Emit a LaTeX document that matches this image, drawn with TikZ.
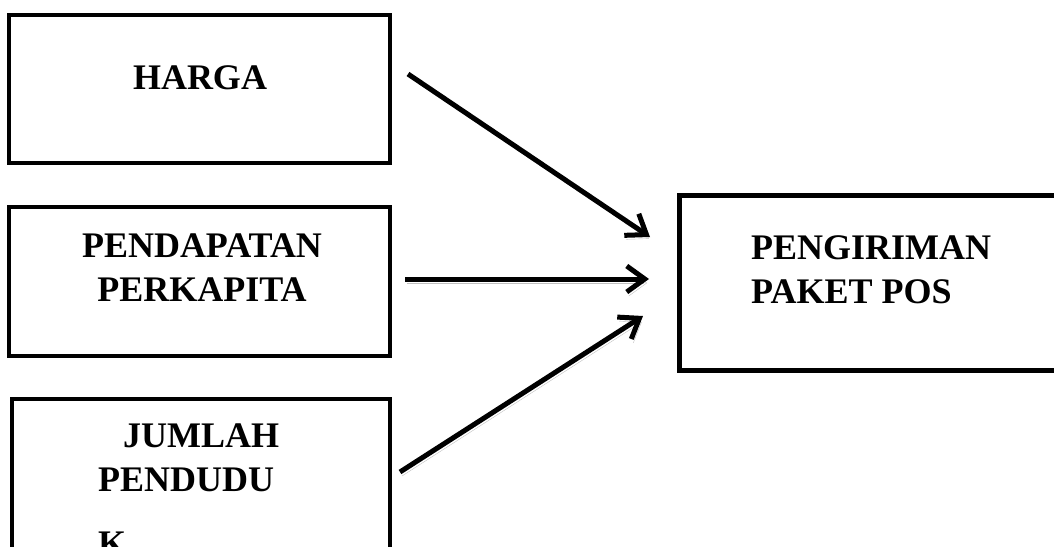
\documentclass[tikz,border=0pt]{standalone}
\usepackage{fontspec}
\setmainfont{Liberation Serif}
\usepackage{tikz}
\usetikzlibrary{arrows.meta, positioning}

\begin{document}
\begin{tikzpicture}[x=1pt, y=-1pt,
        box/.style={draw, line width=4pt, inner sep=0pt, outer sep=0pt},
        lbl/.style={inner sep=0pt, font=\fontsize{36}{44}\selectfont\bfseries},
        arr/.style={line width=5pt, -{Straight Barb[length=18pt, width=26pt]},
            preaction={draw=black!25, transform canvas={shift={(2pt,-4pt)}}}}]
        \useasboundingbox (0, 0) rectangle (1054, 546);

        \node[box, minimum width=381pt, minimum height=148pt] (harga) at (199.5, 89) {};
        \node[box, minimum width=381pt, minimum height=149pt] (pendapatan) at (199.5, 281.5) {};
        \node[box, minimum width=378pt, minimum height=221pt] (jumlah) at (201, 509.5) {};
        \node[box, line width=5pt, minimum width=400pt, minimum height=175pt] (pengiriman) at (879.5, 283) {};

        \node[lbl, anchor=north] (harga-txt) at (200, 65) {HARGA};
        \node[lbl, anchor=north, align=center] (pendapatan-txt) at (202, 234) {PENDAPATAN\\PERKAPITA};
        \node[lbl, anchor=north west, align=left] (jumlah-txt) at (98, 424) {\hspace*{25pt}JUMLAH\\PENDUDU\\[20pt]K};
        \node[lbl, anchor=north west, align=left] (pengiriman-txt) at (751, 235) {PENGIRIMAN\\PAKET POS};

        \draw[arr] ([xshift=18pt, yshift=15pt]harga.east) -- ([xshift=-29.5pt, yshift=46pt]pengiriman.west);
        \draw[arr] ([xshift=15pt, yshift=2.5pt]pendapatan.east) -- ([xshift=-30.5pt, yshift=4pt]pengiriman.west);
        \draw[arr] ([xshift=10pt, yshift=37.5pt]jumlah.east) -- ([xshift=-36.5pt, yshift=-33pt]pengiriman.west);
    \end{tikzpicture}
\end{document}
